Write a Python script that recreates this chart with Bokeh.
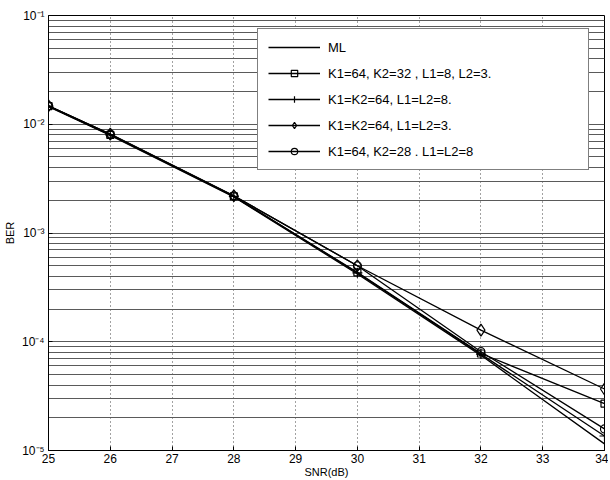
from bokeh.plotting import figure
from bokeh.models import Range1d, FixedTicker, Legend, LegendItem
from bokeh.embed import file_html
from bokeh.resources import INLINE

snr = [25, 26, 28, 30, 32, 34]
ber_ml = [1.45e-2, 7.9e-3, 2.15e-3, 4.2e-4, 7.5e-5, 1.15e-5]
ber_sq = [1.47e-2, 8.0e-3, 2.17e-3, 4.35e-4, 7.8e-5, 2.7e-5]
ber_cross = [1.47e-2, 8.0e-3, 2.17e-3, 4.3e-4, 7.7e-5, 1.36e-5]
ber_dia = [1.48e-2, 8.1e-3, 2.2e-3, 5.0e-4, 1.28e-4, 3.68e-5]
ber_circ = [1.48e-2, 8.1e-3, 2.2e-3, 5.0e-4, 8.1e-5, 1.58e-5]

labels = ["ML", "K1=64, K2=32 , L1=8, L2=3.", "K1=K2=64, L1=L2=8.",
          "K1=K2=64, L1=L2=3.", "K1=64, K2=28 . L1=L2=8"]
x_ticks = list(range(25, 35))
y_decades = [1e-5, 1e-4, 1e-3, 1e-2, 1e-1]
y_tick_labels = ["10\u207b\u2075", "10\u207b\u2074", "10\u207b\u00b3", "10\u207b\u00b2", "10\u207b\u00b9"]
x_title = "SNR(dB)"
y_title = "BER"

FONT = "Liberation Sans"

p = figure(width=608, height=480, y_axis_type="log",
           x_range=Range1d(25, 34), y_range=Range1d(1e-5, 1e-1),
           output_backend="svg", toolbar_location=None,
           min_border_left=48, min_border_right=4, min_border_top=15, min_border_bottom=29)

p.outline_line_color = "black"
p.outline_line_width = 1

# grids
grid_vals = []
for d in [1e-5, 1e-4, 1e-3, 1e-2]:
    for m in range(1, 10):
        grid_vals.append(d * m)
grid_vals.append(1e-1)
p.ygrid.ticker = FixedTicker(ticks=grid_vals)
p.ygrid.grid_line_color = "#5a5a5a"
p.ygrid.grid_line_width = 1
p.xgrid.ticker = FixedTicker(ticks=x_ticks)
p.xgrid.grid_line_color = "#444444"
p.xgrid.grid_line_dash = "1 3"

# axes
p.xaxis.ticker = FixedTicker(ticks=x_ticks)
p.xaxis.axis_label = x_title
p.yaxis.ticker = FixedTicker(ticks=y_decades)
p.yaxis.major_label_overrides = {v: l for v, l in zip(y_decades, y_tick_labels)}
p.yaxis.axis_label = y_title
for ax in [p.xaxis[0], p.yaxis[0]]:
    ax.axis_line_color = "black"
    ax.major_tick_in = 4
    ax.major_tick_out = 0
    ax.minor_tick_in = 0
    ax.minor_tick_out = 0
    ax.major_label_text_font = FONT
    ax.major_label_text_font_size = "12px"
    ax.major_label_text_color = "black"
    ax.axis_label_text_font = FONT
    ax.axis_label_text_font_size = "11px"
    ax.axis_label_text_font_style = "normal"
    ax.axis_label_text_color = "black"
p.xaxis.major_label_standoff = 3
p.xaxis.axis_label_standoff = 0
p.yaxis.major_label_standoff = 4
p.yaxis.axis_label_standoff = 3

lw = 1.3
r_ml = p.line(snr, ber_ml, line_color="black", line_width=lw)

r_sq_l = p.line(snr, ber_sq, line_color="black", line_width=lw)
r_sq_m = p.scatter(snr, ber_sq, marker="square", size=7, line_color="black", fill_color=None, line_width=1.2)

r_cr_l = p.line(snr, ber_cross, line_color="black", line_width=lw)
r_cr_m = p.scatter(snr, ber_cross, marker="cross", size=10, line_color="black", line_width=1.2)

r_di_l = p.line(snr, ber_dia, line_color="black", line_width=lw)
r_di_m = p.scatter(snr, ber_dia, marker="diamond", size=12, line_color="black", fill_color=None, line_width=1.2)

r_ci_l = p.line(snr, ber_circ, line_color="black", line_width=lw)
r_ci_m = p.scatter(snr, ber_circ, marker="circle", size=8, line_color="black", fill_color=None, line_width=1.2)

legend = Legend(items=[
    LegendItem(label=labels[0], renderers=[r_ml]),
    LegendItem(label=labels[1], renderers=[r_sq_l, r_sq_m]),
    LegendItem(label=labels[2], renderers=[r_cr_l, r_cr_m]),
    LegendItem(label=labels[3], renderers=[r_di_l, r_di_m]),
    LegendItem(label=labels[4], renderers=[r_ci_l, r_ci_m]),
], location=(209, 280))
legend.border_line_color = "black"
legend.border_line_width = 1
legend.background_fill_color = "white"
legend.background_fill_alpha = 1
legend.padding = 10
legend.margin = 0
legend.spacing = 10
legend.glyph_width = 52
legend.glyph_height = 16
legend.label_height = 16
legend.label_width = 250
legend.label_standoff = 8
legend.label_text_font = FONT
legend.label_text_font_size = "13px"
legend.label_text_color = "black"
p.add_layout(legend, "center")

open("out.html", "w").write(file_html(p, INLINE))
